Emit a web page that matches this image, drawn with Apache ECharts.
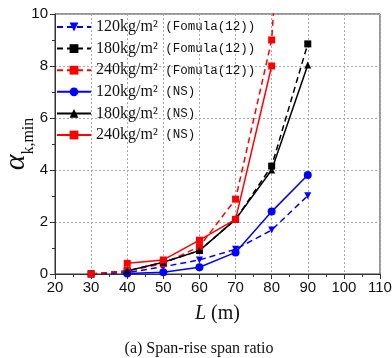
<!DOCTYPE html>
<html>
<head>
<meta charset="utf-8">
<script src="https://cdn.jsdelivr.net/npm/echarts@6/dist/echarts.min.js"></script>
<style>
  html, body { margin: 0; padding: 0; background: #fff; }
  #chart { width: 392px; height: 358px; }
</style>
</head>
<body>
<div id="chart"></div>
<script>
// Span length L (m)
const spans = [30, 40, 50, 60, 70, 80, 90];

// Formula(12) estimates
const formula120 = [0, 0.05, 0.28, 0.54, 0.95, 1.69, 3.01];
const formula180 = [0, 0.12, 0.45, 0.90, 2.10, 4.15, 8.85];
const formula240 = [0, 0.12, 0.40, 1.05, 2.88, 9.00, 30.0];

// Numerical simulation (NS) results
const ns120 = [null, 0.02, 0.07, 0.26, 0.83, 2.40, 3.81];
const ns180 = [null, 0.12, 0.45, 0.90, 2.10, 4.00, 8.04];
const ns240 = [null, 0.41, 0.54, 1.30, 2.10, 8.00, null];

const seriesNames = [
  '120kg/m² (Fomula(12))',
  '180kg/m² (Fomula(12))',
  '240kg/m² (Fomula(12))',
  '120kg/m² (NS)',
  '180kg/m² (NS)',
  '240kg/m² (NS)'
];

const xTicks = { min: 20, max: 110, interval: 10 };
const yTicks = { min: 0, max: 10, interval: 2 };

const BLUE = '#0000ff', BLACK = '#000000', RED = '#ff0000';

function pairs(vals) {
  return spans.map((x, i) => [x, vals[i]]);
}

function mkSeries(name, vals, color, dashed, symbol, rotate) {
  return {
    name: name,
    type: 'line',
    data: pairs(vals),
    connectNulls: false,
    symbol: symbol,
    symbolSize: symbol === 'circle' ? 8 : 7,
    symbolRotate: rotate || 0,
    itemStyle: { color: color },
    lineStyle: { color: color, width: 1.5, type: dashed ? [6, 4] : 'solid' },
    emphasis: { disabled: true },
    clip: true,
    z: 3
  };
}

const chart = echarts.init(document.getElementById('chart'), null, { renderer: 'canvas' });

const axisLabelFont = { fontFamily: 'Liberation Sans', fontSize: 15, color: '#111' };

chart.setOption({
  animation: false,
  backgroundColor: '#fff',
  grid: {
    left: 55, right: 12, top: 14, bottom: 84,
    outerBoundsMode: 'none',
    containLabel: false,
    show: true, borderColor: '#333', borderWidth: 1, backgroundColor: 'transparent'
  },
  title: {
    text: '(a) Span-rise span ratio',
    left: 194, top: 336, textAlign: 'center',
    textStyle: { fontFamily: 'Liberation Serif', fontSize: 16, fontWeight: 'normal', color: '#111' }
  },
  legend: {
    orient: 'vertical',
    left: 56, top: 19,
    padding: 0,
    itemWidth: 34, itemHeight: 11, itemGap: 5.6,
    data: seriesNames,
    formatter: function (name) {
      const sp = name.indexOf(' ');
      return '{a|' + name.slice(0, sp) + '}{b|' + name.slice(sp) + '}';
    },
    textStyle: {
      color: '#111',
      rich: {
        a: { fontFamily: 'Liberation Serif', fontSize: 16, color: '#111', lineHeight: 16 },
        b: { fontFamily: 'Liberation Mono', fontSize: 12.5, color: '#111', lineHeight: 16 }
      }
    }
  },
  xAxis: {
    type: 'value',
    min: xTicks.min, max: xTicks.max, interval: xTicks.interval,
    name: '{i|L}{n| (m)}',
    nameLocation: 'middle', nameGap: 30,
    nameMoveOverlap: false,
    nameTextStyle: {
      rich: {
        i: { fontFamily: 'Liberation Serif', fontStyle: 'italic', fontSize: 20, color: '#111' },
        n: { fontFamily: 'Liberation Serif', fontSize: 20, color: '#111' }
      }
    },
    axisLine: { show: true, onZero: false, lineStyle: { color: '#333', width: 1 } },
    axisTick: { show: true, inside: false, length: 5, lineStyle: { color: '#333' } },
    minorTick: { show: true, splitNumber: 2, length: 3, lineStyle: { color: '#333' } },
    splitLine: { show: true, lineStyle: { color: '#aaa', type: [2, 2], width: 1 } },
    axisLabel: Object.assign({ margin: 6 }, axisLabelFont)
  },
  yAxis: {
    type: 'value',
    min: yTicks.min, max: yTicks.max, interval: yTicks.interval,
    name: '{a|α}{s|k,min}',
    nameLocation: 'middle', nameGap: 24, nameRotate: 90,
    nameMoveOverlap: false,
    nameTextStyle: {
      rich: {
        a: { fontFamily: 'Liberation Serif', fontStyle: 'italic', fontSize: 30, color: '#111', verticalAlign: 'bottom' },
        s: { fontFamily: 'Liberation Serif', fontSize: 16, color: '#111', verticalAlign: 'bottom', padding: [0, 0, -6, 0] }
      }
    },
    axisLine: { show: true, onZero: false, lineStyle: { color: '#333', width: 1 } },
    axisTick: { show: true, inside: false, length: 5, lineStyle: { color: '#333' } },
    minorTick: { show: true, splitNumber: 2, length: 3, lineStyle: { color: '#333' } },
    splitLine: { show: true, lineStyle: { color: '#aaa', type: [2, 2], width: 1 } },
    axisLabel: Object.assign({ margin: 7 }, axisLabelFont)
  },
  series: [
    mkSeries(seriesNames[0], formula120, BLUE, true, 'triangle', 180),
    mkSeries(seriesNames[1], formula180, BLACK, true, 'rect'),
    mkSeries(seriesNames[2], formula240, RED, true, 'rect'),
    mkSeries(seriesNames[3], ns120, BLUE, false, 'circle'),
    mkSeries(seriesNames[4], ns180, BLACK, false, 'triangle'),
    mkSeries(seriesNames[5], ns240, RED, false, 'rect')
  ]
});
</script>
</body>
</html>
